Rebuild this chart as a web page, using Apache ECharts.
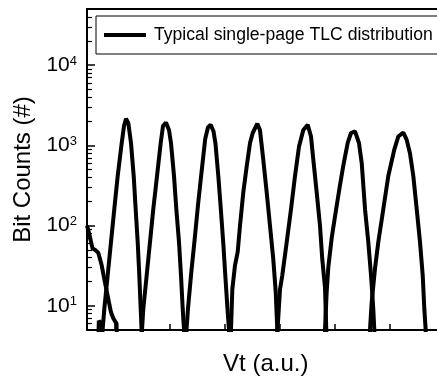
<!DOCTYPE html>
<html>
<head>
<meta charset="utf-8">
<script src="https://cdn.jsdelivr.net/npm/echarts@6/dist/echarts.min.js"></script>
<style>
  html, body { margin: 0; padding: 0; background: #fff; }
  #main { width: 437px; height: 381px; }
</style>
</head>
<body>
<div id="main"></div>
<script>
  // Vt (a.u.) vs bit counts. counts of 1 sit below the axis (clipped)
  var seriesName = 'Typical single-page TLC distribution';

  var erased = [[0, 100], [0.42, 78], [1.0, 52], [1.45, 50], [2.05, 46], [2.67, 32], [3.27, 19.5],
    [3.87, 12.2], [4.36, 8.3], [4.78, 7], [5.09, 7], [5.36, 6], [5.7, 1]];

  var state1 = [[1.85, 1], [2.15, 6.5], [2.55, 6], [2.78, 4.5], [3.15, 9.2], [3.76, 24], [4.36, 62],
    [4.96, 160], [5.58, 415], [6.31, 1070], [6.73, 1740], [7.09, 2150], [7.51, 1900], [8.0, 1070],
    [8.49, 415], [8.85, 160], [9.22, 62], [9.51, 24], [9.76, 9.2], [9.95, 4.5], [10.09, 1]];

  var state2 = [[9.82, 1], [10.0, 5], [10.24, 9.2], [10.85, 24], [11.45, 62], [12.05, 160],
    [12.73, 415], [13.4, 1070], [13.82, 1740], [14.36, 1930], [14.91, 1550], [15.27, 1070],
    [15.82, 415], [16.24, 160], [16.73, 62], [17.09, 24], [17.4, 9.2], [17.64, 5], [17.82, 1]];

  var state3 = [[17.82, 1], [18.09, 5], [18.36, 9.2], [18.96, 26], [19.58, 68], [20.18, 180],
    [20.82, 460], [21.49, 1200], [22.0, 1680], [22.49, 1800], [23.0, 1500], [23.36, 1050],
    [23.87, 420], [24.33, 160], [24.78, 60], [25.18, 22], [25.55, 9], [25.82, 5], [26.0, 1]];

  var state4 = [[26.0, 1], [26.18, 5], [26.42, 16], [26.91, 32], [27.4, 47], [27.82, 100],
    [28.42, 260], [29.04, 550], [29.64, 1070], [30.13, 1425], [30.96, 1860], [31.45, 1550],
    [32.05, 660], [32.67, 260], [33.27, 100], [33.87, 38], [34.31, 15], [34.6, 5], [34.78, 1]];

  var state5 = [[34.36, 1], [34.64, 5], [35.09, 16], [35.51, 24], [36.31, 62], [37.09, 160],
    [37.82, 415], [38.55, 970], [39.33, 1550], [40.13, 1800], [40.73, 1290], [41.15, 660],
    [41.76, 260], [42.36, 100], [42.78, 38], [43.27, 17], [43.51, 5], [43.69, 1]];

  var state6 = [[43.0, 1], [43.27, 5], [43.58, 15], [43.87, 30], [44.49, 70], [45.09, 130],
    [46.0, 320], [46.6, 560], [47.4, 1070], [48.0, 1425], [48.73, 1490], [49.45, 1070],
    [49.95, 600], [50.55, 160], [51.15, 62], [51.64, 24], [52.05, 9.2], [52.24, 5], [52.42, 1]];

  var state7 = [[51.18, 1], [51.45, 5], [51.76, 11], [52.36, 29], [52.96, 62], [53.87, 160],
    [54.78, 415], [55.87, 885], [56.6, 1290], [57.51, 1445], [58.13, 1170], [58.73, 790],
    [59.33, 415], [59.95, 160], [60.55, 62], [61.04, 24], [61.33, 9.2], [61.58, 5], [61.76, 1]];

  var yMajorTicks = [10, 100, 1000, 10000];
  var yMinorTicks = [6, 7, 8, 9, 20, 30, 40, 50, 60, 70, 80, 90, 200, 300, 400, 500, 600, 700, 800, 900,
    2000, 3000, 4000, 5000, 6000, 7000, 8000, 9000, 20000, 30000, 40000];
  var xTicks = [5, 15, 25, 35, 45, 55];

  var font = 'Liberation Sans, Arial, sans-serif';
  var allStates = [erased, state1, state2, state3, state4, state5, state6, state7];

  var chart = echarts.init(document.getElementById('main'));
  chart.setOption({
    animation: false,
    backgroundColor: '#fff',
    grid: {
      // plot runs past the right edge of the picture
      left: 87, top: 9, bottom: 51, width: 357.5,
      outerBoundsMode: 'none',
      show: true, borderColor: '#000', borderWidth: 2
    },
    legend: {
      data: [{ name: seriesName, icon: 'rect' }],
      left: 96, top: 16,
      padding: [10, 30, 10, 8],
      borderColor: '#000', borderWidth: 1,
      itemWidth: 42, itemHeight: 4,
      itemStyle: { color: '#000' },
      textStyle: { fontFamily: font, fontSize: 17.6, lineHeight: 17, color: '#000', padding: [0, 0, 0, 3] }
    },
    xAxis: {
      type: 'value', min: 0, max: 65,
      name: 'Vt (a.u.)', nameLocation: 'middle', nameGap: 22,
      nameTextStyle: { fontFamily: font, fontSize: 24, color: '#000' },
      axisLine: { show: false },
      splitLine: { show: false },
      axisLabel: { show: false },
      axisTick: { show: true, inside: true, length: 6, customValues: xTicks,
        lineStyle: { color: '#000', width: 1.5 } }
    },
    yAxis: [{
      type: 'log', logBase: 10, min: 5, max: 50000,
      name: 'Bit Counts (#)', nameLocation: 'middle', nameGap: 50,
      nameTextStyle: { fontFamily: font, fontSize: 24, color: '#000' },
      axisLine: { show: false },
      splitLine: { show: false },
      axisTick: { show: true, inside: true, length: 8, customValues: yMajorTicks,
        lineStyle: { color: '#000', width: 1.5 } },
      axisLabel: {
        margin: 10, customValues: yMajorTicks,
        formatter: function (v) {
          return '{b|10}{s|' + Math.round(Math.log10(v)) + '}';
        },
        rich: {
          b: { fontFamily: font, fontSize: 21, color: '#000' },
          s: { fontFamily: font, fontSize: 13, color: '#000', verticalAlign: 'top' }
        }
      }
    }, {
      type: 'log', logBase: 10, min: 5, max: 50000, position: 'left',
      axisLine: { show: false },
      splitLine: { show: false },
      axisLabel: { show: false },
      axisTick: { show: true, inside: true, length: 5, customValues: yMinorTicks,
        lineStyle: { color: '#000', width: 1.2 } }
    }],
    series: allStates.map(function (d) {
      return {
        name: seriesName, type: 'line', data: d,
        yAxisIndex: 0, symbol: 'none', clip: true,
        color: '#000',
        lineStyle: { color: '#000', width: 4 }
      };
    })
  });
</script>
</body>
</html>
